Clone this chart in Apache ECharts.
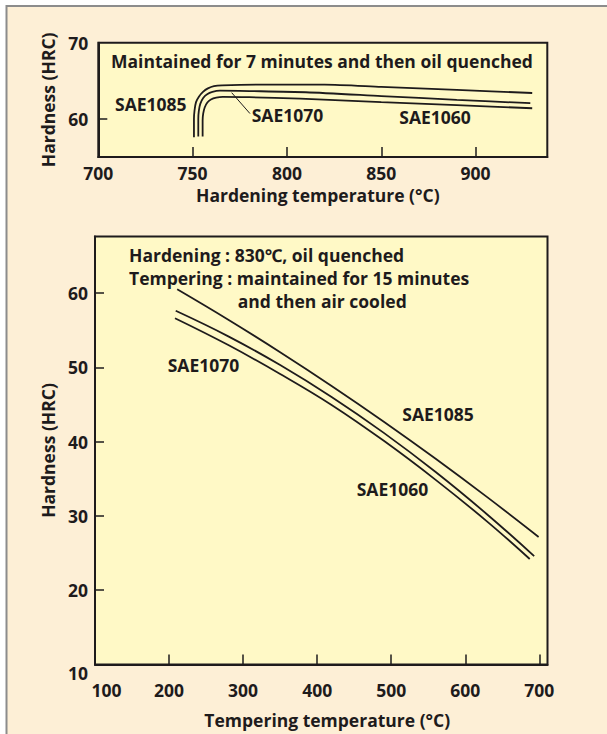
<!DOCTYPE html>
<html>
<head>
<meta charset="utf-8">
<script src="https://cdn.jsdelivr.net/npm/echarts@6/dist/echarts.min.js"></script>
<style>
  html, body { margin: 0; padding: 0; background: #ffffff; }
  #chart { width: 607px; height: 734px; }
</style>
</head>
<body>
<div id="chart"></div>
<script>
// ---- Upper panel: hardness vs. hardening temperature ----
const hardeningTickValues = [750, 800, 850, 900];
const hardeningLabelValues = [700, 750, 800, 850, 900];
const hardnessTopTickValues = [60];
const hardnessTopLabelValues = [60, 70];

const sae1085Hardening = [
  [750.7, 57.6], [750.7, 60.0], [751.0, 61.1], [751.8, 62.2], [753.4, 62.95],
  [755.5, 63.55], [758.1, 64.0], [761.3, 64.3], [765.6, 64.4], [790, 64.5],
  [820, 64.5], [850, 64.2], [890, 63.8], [930, 63.4]
];
const sae1070Hardening = [
  [753.0, 57.7], [753.0, 60.0], [753.3, 61.1], [754.1, 62.0], [755.6, 62.75],
  [757.7, 63.25], [760.5, 63.55], [764.5, 63.7], [780, 63.65], [810, 63.5],
  [850, 63.0], [890, 62.5], [929, 62.06]
];
const sae1060Hardening = [
  [755.3, 57.7], [755.3, 59.8], [755.6, 60.7], [756.4, 61.5], [757.8, 62.15],
  [759.7, 62.55], [762.5, 62.8], [766, 62.9], [780, 62.85], [807, 62.65],
  [850, 62.2], [890, 61.8], [930, 61.4]
];
// pointer from the SAE1070 label to its curve
const sae1070Pointer = [[770.7, 63.44], [780.4, 60.7]];

// ---- Lower panel: hardness vs. tempering temperature ----
const temperingTickValues = [200, 300, 400, 500, 600, 700];
const temperingLabelValues = [100, 200, 300, 400, 500, 600, 700];
const hardnessBottomTickValues = [20, 30, 40, 50, 60];
const hardnessBottomLabelValues = [10, 20, 30, 40, 50, 60];

const sae1085Tempering = [
  [211, 60.5], [280, 56.4], [350, 52.03], [420, 47.46], [490, 42.68],
  [560, 37.69], [630, 32.49], [699, 27.17]
];
const sae1070Tempering = [
  [209, 57.6], [280, 54.16], [350, 50.3], [420, 45.97], [490, 41.17],
  [560, 35.9], [630, 30.16], [693, 24.59]
];
const sae1060Tempering = [
  [208, 56.6], [280, 52.99], [350, 49.1], [420, 44.9], [490, 40.1],
  [560, 34.85], [630, 29.2], [687, 24.2]
];

const INK = '#1e1b1c';
const FONT = '"Open Sans", "Noto Sans", sans-serif';
const PLOT_BG = '#fff9c6';
const PAGE_BG = '#fdefd6';
const FS = 17.5;

const labelStyle = { color: INK, fontSize: FS, fontWeight: 'bold', fontFamily: FONT, lineHeight: 18 };
const nameStyle = { color: INK, fontSize: FS, fontWeight: 'bold', fontFamily: FONT, lineHeight: 18 };
const axisLine = { show: true, onZero: false, lineStyle: { color: INK, width: 2 } };

function curve(data, xi, yi, smooth) {
  return {
    type: 'line', xAxisIndex: xi, yAxisIndex: yi, data: data,
    showSymbol: false, smooth: smooth, silent: true,
    lineStyle: { color: INK, width: 1.8 }
  };
}

// free text placed by its left edge and vertical middle
function note(text, x, y) {
  return {
    type: 'text', x: x, y: y, silent: true,
    style: { text: text, fill: INK, font: 'bold ' + FS + 'px ' + FONT,
      align: 'left', verticalAlign: 'middle' }
  };
}

const chart = echarts.init(document.getElementById('chart'), null, { renderer: 'svg' });

chart.setOption({
  animation: false,
  backgroundColor: 'transparent',
  textStyle: { fontFamily: FONT },
  grid: [
    { left: 98.3, top: 42.7, width: 449, height: 114.3, show: true,
      backgroundColor: PLOT_BG, borderColor: INK, borderWidth: 2 },
    { left: 95, top: 236.5, width: 452.5, height: 428, show: true,
      backgroundColor: PLOT_BG, borderColor: INK, borderWidth: 2 }
  ],
  xAxis: [
    {
      gridIndex: 0, type: 'value', min: 700, max: 938,
      name: 'Hardening temperature (°C)', nameLocation: 'middle', nameGap: 29,
      nameTextStyle: Object.assign({ padding: [0, 10, 0, 0] }, nameStyle),
      axisLine: axisLine,
      axisTick: { show: true, inside: true, length: 10, customValues: hardeningTickValues,
        lineStyle: { color: INK, width: 1.5 } },
      axisLabel: Object.assign({ margin: 7, customValues: hardeningLabelValues }, labelStyle),
      splitLine: { show: false }
    },
    {
      gridIndex: 1, type: 'value', min: 100, max: 711,
      name: 'Tempering temperature (°C)', nameLocation: 'middle', nameGap: 46,
      nameTextStyle: Object.assign({ padding: [0, 0, 0, 12] }, nameStyle),
      axisLine: axisLine,
      axisTick: { show: true, inside: true, length: 10, customValues: temperingTickValues,
        lineStyle: { color: INK, width: 1.5 } },
      axisLabel: Object.assign({
        margin: 16, customValues: temperingLabelValues,
        formatter: function (v) { return v === 100 ? '{first|100}' : String(v); },
        rich: { first: Object.assign({ padding: [0, 0, 0, 23] }, labelStyle) }
      }, labelStyle),
      splitLine: { show: false }
    }
  ],
  yAxis: [
    {
      gridIndex: 0, type: 'value', min: 55, max: 70,
      name: 'Hardness (HRC)', nameLocation: 'middle', nameGap: 39,
      nameTextStyle: nameStyle,
      axisLine: axisLine,
      axisTick: { show: true, inside: true, length: 9, customValues: hardnessTopTickValues,
        lineStyle: { color: INK, width: 1.5 } },
      axisLabel: Object.assign({ margin: 10, customValues: hardnessTopLabelValues }, labelStyle),
      splitLine: { show: false }
    },
    {
      gridIndex: 1, type: 'value', min: 10, max: 67.6,
      name: 'Hardness (HRC)', nameLocation: 'middle', nameGap: 36,
      nameTextStyle: nameStyle,
      axisLine: axisLine,
      axisTick: { show: true, inside: true, length: 9, customValues: hardnessBottomTickValues,
        lineStyle: { color: INK, width: 1.5 } },
      axisLabel: Object.assign({
        margin: 7, customValues: hardnessBottomLabelValues,
        formatter: function (v) { return v === 10 ? '{last|10}' : String(v); },
        rich: { last: Object.assign({ padding: [16, 0, 0, 0] }, labelStyle) }
      }, labelStyle),
      splitLine: { show: false }
    }
  ],
  graphic: [
    // page panel
    { type: 'rect', z: -10, silent: true, shape: { x: 6.5, y: 6, width: 700, height: 800 },
      style: { fill: PAGE_BG, stroke: '#8c8c8c', lineWidth: 2 } },
    // upper panel notes
    note('Maintained for 7 minutes and then oil quenched', 111, 61),
    note('SAE1085', 115, 103.5),
    note('SAE1070', 251.7, 115),
    note('SAE1060', 399.3, 116.7),
    // lower panel notes
    note('Hardening : 830℃, oil quenched', 129, 255),
    note('Tempering : maintained for 15 minutes', 129, 278.3),
    note('and then air cooled', 237.7, 301),
    note('SAE1070', 167.7, 365),
    note('SAE1085', 402.3, 414.3),
    note('SAE1060', 356.7, 489.3)
  ],
  series: [
    curve(sae1085Hardening, 0, 0, 0.25),
    curve(sae1070Hardening, 0, 0, 0.25),
    curve(sae1060Hardening, 0, 0, 0.25),
    Object.assign(curve(sae1070Pointer, 0, 0, false), { lineStyle: { color: INK, width: 1 } }),
    curve(sae1085Tempering, 1, 1, 0.4),
    curve(sae1070Tempering, 1, 1, 0.4),
    curve(sae1060Tempering, 1, 1, 0.4)
  ]
});
</script>
</body>
</html>
